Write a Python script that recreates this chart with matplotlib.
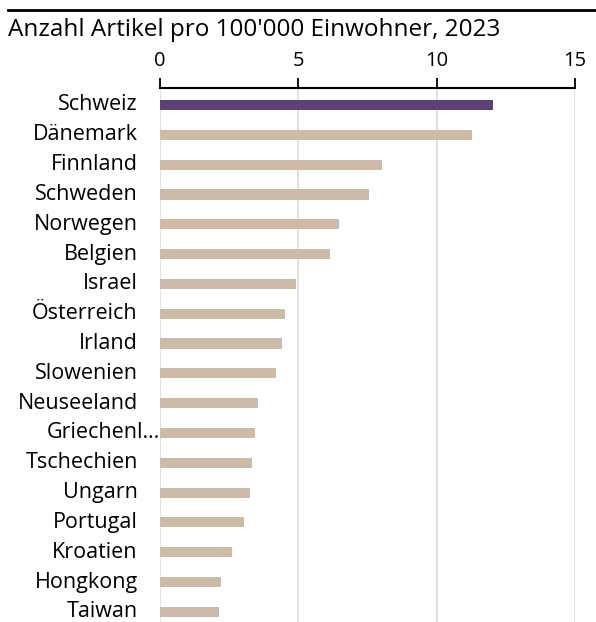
import matplotlib.pyplot as plt
from matplotlib.lines import Line2D

countries = ['Schweiz', 'Dänemark', 'Finnland', 'Schweden', 'Norwegen', 'Belgien',
             'Israel', 'Österreich', 'Irland', 'Slowenien', 'Neuseeland', 'Griechenl…',
             'Tschechien', 'Ungarn', 'Portugal', 'Kroatien', 'Hongkong', 'Taiwan']
values = [12.02, 11.27, 8.01, 7.55, 6.47, 6.13, 4.93, 4.52, 4.42, 4.19, 3.56, 3.45,
          3.32, 3.26, 3.04, 2.60, 2.21, 2.13]
xticks = [0, 5, 10, 15]
title = "Anzahl Artikel pro 100'000 Einwohner, 2023"

purple = '#5f4073'
beige = '#cdbba8'

plt.rcParams['font.family'] = ['Open Sans', 'DejaVu Sans']

fig = plt.figure(figsize=(5.96, 6.22), dpi=100)
ax = fig.add_axes([160 / 596, 0, 415 / 596, 1 - 88 / 622])

colors = [purple if c == 'Schweiz' else beige for c in countries]
ypos = list(range(len(countries)))
ax.barh(ypos, values, height=0.34, color=colors, zorder=3)

ax.set_xlim(0, 15)
ax.set_ylim(17.34, -0.57)
ax.xaxis.tick_top()
ax.set_xticks(xticks)
ax.set_xticklabels([str(t) for t in xticks], fontsize=14.5)
ax.tick_params(axis='x', direction='out', length=7, width=1.3, pad=5, color='black')
ax.set_yticks([])
for s in ['right', 'bottom', 'left']:
    ax.spines[s].set_visible(False)
ax.spines['top'].set_linewidth(1.5)
ax.grid(axis='x', color='#dcdcdc', linewidth=1.2, zorder=0)

for i, (c, v) in enumerate(zip(countries, values)):
    off = 0 if c.endswith('…') else -0.8
    ax.text(off, i, c, ha='right', va='center', fontsize=15.5)

fig.text(8 / 596, 1 - 30 / 622, title, ha='left', va='center', fontsize=17.5)
fig.add_artist(Line2D([8 / 596, 1], [1 - 10 / 622, 1 - 10 / 622], color='black',
                      linewidth=2, transform=fig.transFigure))

fig.savefig('out.png', dpi=100)
